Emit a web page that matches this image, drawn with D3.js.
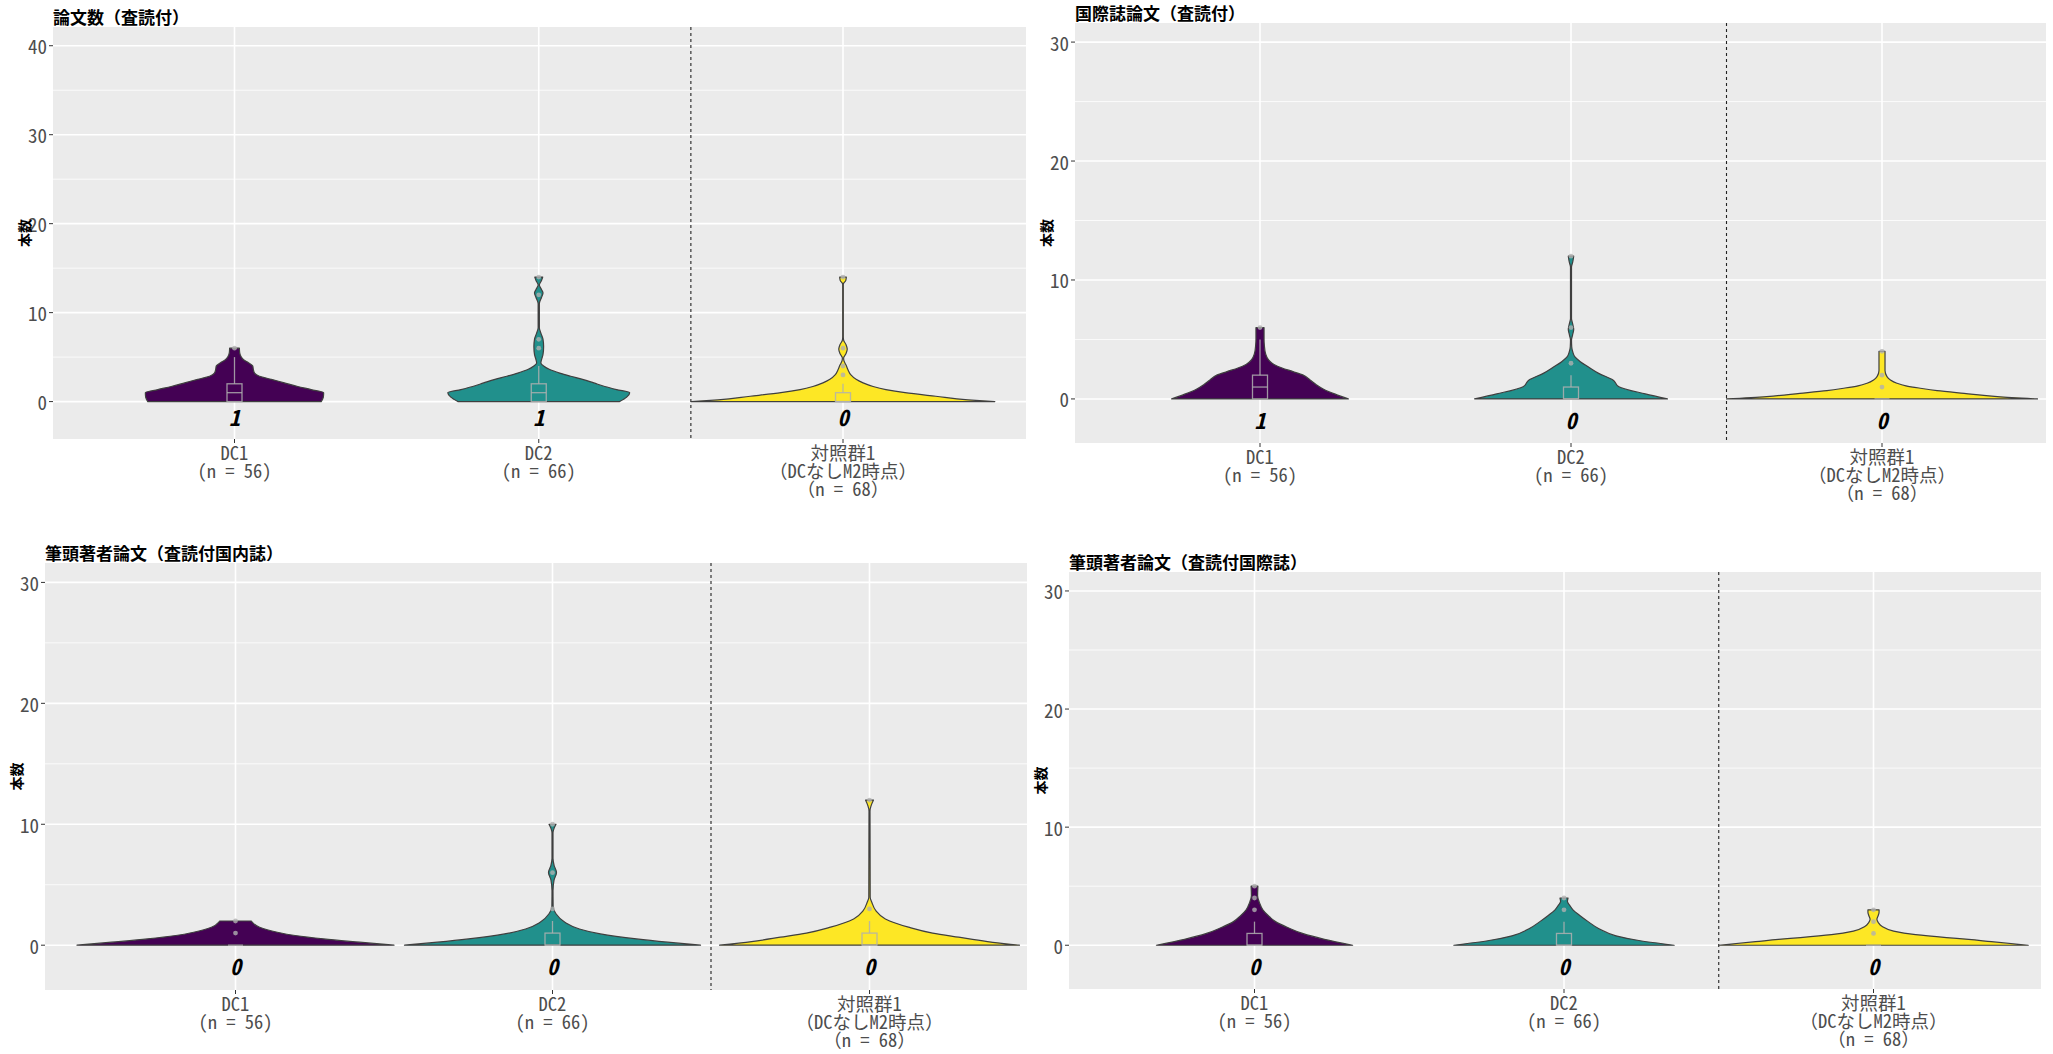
<!DOCTYPE html>
<html><head><meta charset="utf-8">
<script src="https://cdn.jsdelivr.net/npm/d3@7"></script>
<style>body{margin:0;background:#fff;}</style>
</head><body>
<svg id="chart" width="2053" height="1054"></svg>
<script>
// ================= DATA =================
const categories = ["DC1", "DC2", "対照群1"];
const categoryLabels = [["DC1", "(n = 56)"], ["DC2", "(n = 66)"], ["対照群1", "（DCなしM2時点）", "（n = 68）"]];
const panelTitles = ["論文数（査読付）", "国際誌論文（査読付）", "筆頭著者論文（査読付国内誌）", "筆頭著者論文（査読付国際誌）"];
const yAxisTitle = "本数";
const yTicksP1 = [0, 10, 20, 30, 40];
const yTicksOther = [0, 10, 20, 30];
const yLimitsP1 = [-2.1, 40];
const yLimitsOther = [-2.1, 30];
const medianLabels = [[1, 1, 0], [1, 0, 0], [0, 0, 0], [0, 0, 0]];

// violin density profiles: [value, half-width in category units]
const densP1 = [
  [[0,0.285],[0.5,0.292],[1,0.293],[1.35,0.252],[1.7,0.208],[2.1,0.164],[2.5,0.121],[2.85,0.082],[3.2,0.066],[3.6,0.062],[4,0.060],[4.35,0.047],[4.7,0.030],[5.1,0.021],[5.5,0.017],[6,0.016]],
  [[0,0.266],[0.5,0.289],[1,0.299],[1.35,0.256],[1.7,0.217],[2.1,0.181],[2.5,0.144],[2.85,0.105],[3.2,0.069],[3.6,0.036],[4,0.016],[4.35,0.007],[4.7,0.009],[5.3,0.014],[6.2,0.016],[7,0.014],[7.7,0.007],[8.3,0.002],[9,0.002],[11,0.002],[11.7,0.009],[12.2,0.014],[12.6,0.009],[13.1,0.002],[13.6,0.009],[14,0.013]],
  [[0,0.499],[0.2,0.411],[0.6,0.305],[1,0.204],[1.35,0.141],[1.7,0.099],[2.1,0.066],[2.5,0.043],[3,0.026],[3.6,0.016],[4.1,0.010],[4.6,0.003],[4.9,0.002],[5.4,0.010],[5.9,0.014],[6.4,0.010],[6.9,0.002],[7.3,0.001],[13.2,0.001],[13.6,0.009],[14,0.011]]
];
const densP2 = [
  [[0,0.284],[0.4,0.242],[0.8,0.206],[1.2,0.181],[1.6,0.161],[2,0.139],[2.3,0.106],[2.6,0.071],[2.9,0.045],[3.3,0.027],[3.8,0.018],[4.5,0.014],[5,0.013],[6,0.013]],
  [[0,0.31],[0.42,0.239],[1.03,0.154],[1.6,0.135],[2.15,0.089],[2.7,0.055],[3.13,0.030],[3.55,0.012],[3.97,0.0055],[4.39,0.0023],[4.95,0.0016],[5.37,0.005],[5.85,0.0087],[6.35,0.005],[6.77,0.0016],[11.1,0.0016],[11.5,0.0055],[12,0.0087]],
  [[0,0.5],[0.2,0.371],[0.47,0.264],[0.7,0.177],[0.9,0.123],[1.1,0.077],[1.32,0.048],[1.6,0.027],[1.88,0.016],[2.4,0.0097],[3.8,0.0097],[4,0.0097]]
];
const densP3 = [
  [[0,0.5],[0.25,0.391],[0.52,0.278],[0.8,0.188],[1.07,0.132],[1.48,0.076],[1.9,0.053],[2,0.050]],
  [[0,0.467],[0.25,0.363],[0.52,0.265],[0.93,0.151],[1.34,0.085],[1.9,0.039],[2.6,0.011],[3.15,0.002],[4.5,0.0016],[5.4,0.005],[6,0.0126],[6.6,0.005],[7.2,0.0016],[9.3,0.0016],[10,0.011]],
  [[0,0.473],[0.3,0.372],[0.66,0.281],[1,0.199],[1.49,0.123],[2.17,0.050],[2.86,0.020],[3.55,0.0073],[3.96,0.0022],[11.1,0.0016],[12,0.0126]]
];
const densP4 = [
  [[0,0.317],[0.5,0.226],[1,0.155],[1.5,0.107],[2,0.068],[2.5,0.045],[3,0.027],[3.6,0.016],[4.2,0.010],[5,0.011]],
  [[0,0.356],[0.4,0.242],[0.8,0.168],[1.4,0.113],[2,0.078],[2.5,0.052],[3,0.029],[3.4,0.018],[3.7,0.011],[4,0.013]],
  [[0,0.5],[0.3,0.381],[0.5,0.307],[0.65,0.236],[0.9,0.136],[1.2,0.065],[1.6,0.027],[1.9,0.016],[2.2,0.011],[2.5,0.015],[2.8,0.018],[3,0.018]]
];

// boxplot stats: [q1, median, q3, whiskerLow, whiskerHigh]
const boxP1 = [[0,1,2,0,5],[0,1,2,0,4],[0,0,1,0,2]];
const boxP2 = [[0,1,2,0,5],[0,0,1,0,2],[0,0,0,0,0]];
const boxP3 = [[0,0,0,0,0],[0,0,1,0,2],[0,0,1,0,2]];
const boxP4 = [[0,0,1,0,2],[0,0,1,0,2],[0,0,0,0,0]];
const outP1 = [[6],[6,7,12,14],[3,4,6,14]];
const outP2 = [[6],[3,6,12],[1,2,4]];
const outP3 = [[1,2],[3,6,10],[3,12]];
const outP4 = [[3,4,5],[3,4],[1,2,3]];

// ================= LAYOUT =================
const fills = ["#440154", "#21908C", "#FDE725"];
const monoFont = "'Noto Sans Mono CJK JP','Noto Sans CJK JP','Liberation Sans Narrow',sans-serif";
const cjkFont = "'Noto Sans CJK JP',sans-serif";
const medianLabelY = -1.65;
const separatorAt = 2.5;

const panels = [
  {title: panelTitles[0], lim: yLimitsP1, ticks: yTicksP1, box: [53, 1026, 27, 439], cx: [234.5, 843], dens: densP1, stats: boxP1, outl: outP1, med: medianLabels[0]},
  {title: panelTitles[1], lim: yLimitsOther, ticks: yTicksOther, box: [1075, 2046, 23, 443], cx: [1260, 1882], dens: densP2, stats: boxP2, outl: outP2, med: medianLabels[1]},
  {title: panelTitles[2], lim: yLimitsOther, ticks: yTicksOther, box: [45, 1027, 563, 990], cx: [235.5, 869.5], dens: densP3, stats: boxP3, outl: outP3, med: medianLabels[2]},
  {title: panelTitles[3], lim: yLimitsOther, ticks: yTicksOther, box: [1069, 2041, 572, 989], cx: [1254.5, 1873.5], dens: densP4, stats: boxP4, outl: outP4, med: medianLabels[3]}
];

const svg = d3.select("#chart");
svg.append("rect").attr("width", 2053).attr("height", 1054).attr("fill", "#fff");

panels.forEach(p => {
  const [L, R, T, B] = p.box;
  const span = p.lim[1] - p.lim[0];
  const y = d3.scaleLinear().domain([p.lim[0] - 0.05 * span, p.lim[1] + 0.05 * span]).range([B, T]);
  const x = d3.scaleLinear().domain([1, 3]).range(p.cx);
  const g = svg.append("g");

  g.append("rect").attr("x", L).attr("y", T).attr("width", R - L).attr("height", B - T).attr("fill", "#EBEBEB");
  const minor = p.ticks.slice(0, -1).map(t => t + 5);
  g.selectAll(".mi").data(minor).enter().append("line")
    .attr("x1", L).attr("x2", R).attr("y1", d => y(d)).attr("y2", d => y(d))
    .attr("stroke", "#fff").attr("stroke-width", 0.8);
  g.selectAll(".ma").data(p.ticks).enter().append("line")
    .attr("x1", L).attr("x2", R).attr("y1", d => y(d)).attr("y2", d => y(d))
    .attr("stroke", "#fff").attr("stroke-width", 1.6);
  g.selectAll(".vx").data(categories).enter().append("line")
    .attr("x1", (d, i) => x(i + 1)).attr("x2", (d, i) => x(i + 1)).attr("y1", T).attr("y2", B)
    .attr("stroke", "#fff").attr("stroke-width", 1.6);

  g.append("line").attr("x1", x(separatorAt)).attr("x2", x(separatorAt)).attr("y1", T).attr("y2", B)
    .attr("stroke", "#222").attr("stroke-width", 1.1).attr("stroke-dasharray", "3,3");

  p.dens.forEach((prof, i) => {
    const c = x(i + 1);
    const hw = d => x(1 + d) - x(1);
    const area = d3.area()
      .y(d => y(d[0]))
      .x0(d => c - hw(d[1]))
      .x1(d => c + hw(d[1]))
      .curve(d3.curveMonotoneY);
    g.append("path").attr("d", area(prof)).attr("fill", fills[i])
      .attr("stroke", "#3f3f3f").attr("stroke-width", 1.2).attr("stroke-linejoin", "round");
  });

  const bw = 15;
  p.stats.forEach((s, i) => {
    const c = x(i + 1);
    const [q1, md, q3, lo, hi] = s;
    const bg = g.append("g").attr("stroke", "#b0b0b0").attr("stroke-opacity", 0.85).attr("fill", "none").attr("stroke-width", 1.3);
    bg.append("line").attr("x1", c).attr("x2", c).attr("y1", y(q3)).attr("y2", y(hi));
    bg.append("line").attr("x1", c).attr("x2", c).attr("y1", y(q1)).attr("y2", y(lo));
    bg.append("rect").attr("x", c - bw / 2).attr("width", bw).attr("y", y(q3)).attr("height", Math.max(0, y(q1) - y(q3)));
    bg.append("line").attr("x1", c - bw / 2).attr("x2", c + bw / 2).attr("y1", y(md)).attr("y2", y(md));
    g.selectAll(null).data(p.outl[i]).enter().append("circle")
      .attr("cx", c).attr("cy", d => y(d)).attr("r", 2.4)
      .attr("fill", "#b0b0b0").attr("fill-opacity", 0.8);
  });

  g.selectAll(null).data(p.med).enter().append("text")
    .attr("x", (d, i) => x(i + 1)).attr("y", y(medianLabelY))
    .attr("dominant-baseline", "central").attr("text-anchor", "middle")
    .attr("font-family", monoFont).attr("font-weight", "bold").attr("font-style", "italic")
    .attr("font-size", 22).attr("fill", "#000").text(d => d);

  g.selectAll(null).data(p.ticks).enter().append("line")
    .attr("x1", L - 4).attr("x2", L).attr("y1", d => y(d)).attr("y2", d => y(d))
    .attr("stroke", "#333").attr("stroke-width", 1);
  g.selectAll(null).data(p.ticks).enter().append("text")
    .attr("x", L - 6).attr("y", d => y(d)).attr("dominant-baseline", "central").attr("text-anchor", "end")
    .attr("font-family", monoFont).attr("font-size", 19).attr("fill", "#4D4D4D").text(d => d);

  categories.forEach((cat, i) => {
    const c = x(i + 1);
    g.append("line").attr("x1", c).attr("x2", c).attr("y1", B).attr("y2", B + 4).attr("stroke", "#333").attr("stroke-width", 1);
    categoryLabels[i].forEach((line, k) => {
      g.append("text").attr("text-anchor", "middle").attr("font-family", monoFont)
        .attr("font-size", 18.5).attr("fill", "#4D4D4D")
        .attr("x", c).attr("y", B + 13 + 18 * k).attr("dominant-baseline", "central").text(line);
    });
  });

  g.append("text").attr("x", L).attr("y", T - 3).attr("font-family", cjkFont).attr("font-weight", "bold")
    .attr("font-size", 17).attr("fill", "#000").text(p.title);

  const yc = (T + B) / 2;
  g.append("text").attr("transform", `translate(${L - 29},${yc}) rotate(-90)`)
    .attr("text-anchor", "middle").attr("dominant-baseline", "central")
    .attr("font-family", cjkFont).attr("font-weight", "bold").attr("font-size", 14).attr("fill", "#000")
    .text(yAxisTitle);
});
</script>
</body></html>
